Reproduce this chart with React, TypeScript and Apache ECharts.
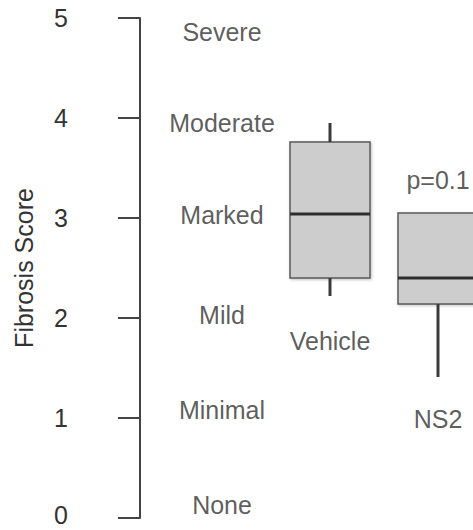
import React, { useEffect, useRef } from "react";
import * as echarts from "echarts";

// Groups and box statistics (Fibrosis Score)
const categories = ["Vehicle", "NS2"];
const whiskerLow = [2.22, 1.41];
const q1 = [2.4, 2.14];
const median = [3.04, 2.4];
const q3 = [3.76, 3.05];
const whiskerHigh = [3.95, 3.05];

// y-axis scale
const yTicks = [0, 1, 2, 3, 4, 5];

// Severity scale labels and their score positions
const severityNames = ["None", "Minimal", "Mild", "Marked", "Moderate", "Severe"];
const severityY = [0.13, 1.08, 2.03, 3.03, 3.955, 4.86];

// Annotation texts
const annotationTexts = ["Vehicle", "NS2", "p=0.1"];
const annotationCat = [0, 1, 1];
const annotationY = [1.77, 0.99, 3.38];

const FONT = "'Liberation Sans', Arial, Helvetica, sans-serif";
const TXT = "#333";

export default function App() {
  const ref = useRef<HTMLDivElement>(null);
  useEffect(() => {
    if (!ref.current) return;
    const chart = echarts.init(ref.current, null, { renderer: "svg" });
    const boxData = categories.map((_, i) => [i, whiskerLow[i], q1[i], median[i], q3[i], whiskerHigh[i]]);
    chart.setOption({
      animation: false,
      backgroundColor: "#fff",
      textStyle: { fontFamily: FONT },
      grid: [
        { left: 276, top: 18, width: 216, height: 500, containLabel: false, outerBoundsMode: "none" },
        { left: 140, top: 18, width: 164, height: 500, containLabel: false, outerBoundsMode: "none" },
      ],
      xAxis: [
        {
          type: "category",
          gridIndex: 0,
          data: categories,
          show: false,
        },
        { type: "value", gridIndex: 1, min: 0, max: 1, show: false },
      ],
      yAxis: [
        {
          type: "value",
          gridIndex: 0,
          min: 0,
          max: 5,
          interval: 1,
          offset: 136,
          name: "Fibrosis Score",
          nameLocation: "middle",
          nameGap: 104,
          nameTextStyle: { fontSize: 25, color: TXT, fontFamily: FONT },
          axisLine: { show: true, lineStyle: { color: "#444", width: 2 } },
          axisTick: { show: true, length: 22, lineStyle: { color: "#444", width: 2 } },
          axisLabel: {
            margin: 72,
            fontSize: 25,
            color: TXT,
            fontFamily: FONT,
            formatter: (v: number) =>
              yTicks.includes(v) ? (v === 0 ? "{z|" + v + "}" : String(v)) : "",
            rich: {
              z: { fontSize: 25, color: TXT, fontFamily: FONT, padding: [0, 0, 7, 0] },
            },
          },
          splitLine: { show: false },
        },
        { type: "value", gridIndex: 1, min: 0, max: 5, show: false },
      ],
      series: [
        {
          type: "custom",
          xAxisIndex: 0,
          yAxisIndex: 0,
          data: boxData,
          encode: { x: 0, y: [1, 2, 3, 4, 5] },
          renderItem: (params: any, api: any) => {
            const x = api.value(0);
            const lo = api.coord([x, api.value(1)]);
            const b1 = api.coord([x, api.value(2)]);
            const md = api.coord([x, api.value(3)]);
            const b3 = api.coord([x, api.value(4)]);
            const hi = api.coord([x, api.value(5)]);
            const cx = lo[0];
            const half = 40;
            const children: any[] = [];
            children.push({
              type: "rect",
              shape: { x: cx - half, y: b3[1], width: half * 2, height: b1[1] - b3[1] },
              style: {
                fill: "#cdcdcd",
                stroke: "#5a5a5a",
                lineWidth: 1.5,
                shadowBlur: 3,
                shadowColor: "rgba(0,0,0,0.25)",
                shadowOffsetX: 1,
                shadowOffsetY: 1,
              },
            });
            if (hi[1] < b3[1] - 0.5) {
              children.push({
                type: "line",
                shape: { x1: cx, y1: hi[1], x2: cx, y2: b3[1] },
                style: { stroke: "#3a3a3a", lineWidth: 3 },
              });
            }
            if (lo[1] > b1[1] + 0.5) {
              children.push({
                type: "line",
                shape: { x1: cx, y1: b1[1], x2: cx, y2: lo[1] },
                style: { stroke: "#3a3a3a", lineWidth: 3 },
              });
            }
            children.push({
              type: "line",
              shape: { x1: cx - half, y1: md[1], x2: cx + half, y2: md[1] },
              style: { stroke: "#2e2e2e", lineWidth: 3 },
            });
            return { type: "group", children };
          },
        },
        {
          type: "scatter",
          xAxisIndex: 0,
          yAxisIndex: 0,
          symbolSize: 0,
          silent: true,
          data: annotationTexts.map((t, i) => ({ name: t, value: [annotationCat[i], annotationY[i]] })),
          label: {
            show: true,
            position: "inside",
            formatter: (p: any) => p.name,
            fontSize: 25,
            color: TXT,
            fontFamily: FONT,
          },
        },
        {
          type: "scatter",
          xAxisIndex: 1,
          yAxisIndex: 1,
          symbolSize: 0,
          silent: true,
          data: severityNames.map((t, i) => ({ name: t, value: [0.5, severityY[i]] })),
          label: {
            show: true,
            position: "inside",
            formatter: (p: any) => p.name,
            fontSize: 25,
            color: TXT,
            fontFamily: FONT,
          },
        },
      ],
    });
    return () => chart.dispose();
  }, []);
  return <div ref={ref} style={{ width: 473, height: 530, position: "absolute", left: 0, top: 0 }} />;
}
